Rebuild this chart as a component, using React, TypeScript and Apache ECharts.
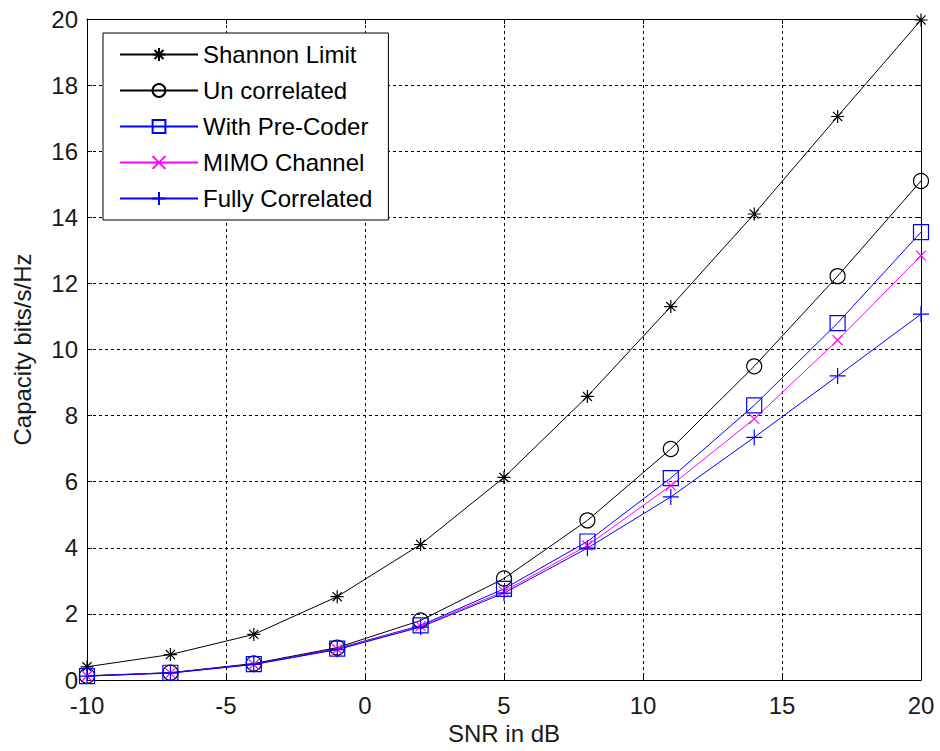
import React, { useEffect, useRef } from "react";
import * as echarts from "echarts";

const snr = [-10, -7, -4, -1, 2, 5, 8, 11, 14, 17, 20];
const shannon = [0.4, 0.77, 1.38, 2.52, 4.1, 6.13, 8.58, 11.3, 14.1, 17.05, 19.97];
const uncorrelated = [0.13, 0.22, 0.5, 0.98, 1.8, 3.07, 4.83, 6.99, 9.49, 12.22, 15.1];
const preCoder = [0.12, 0.22, 0.48, 0.95, 1.65, 2.76, 4.19, 6.11, 8.31, 10.8, 13.55];
const mimo = [0.12, 0.21, 0.47, 0.93, 1.63, 2.68, 4.07, 5.88, 7.9, 10.28, 12.84];
const fully = [0.12, 0.21, 0.47, 0.92, 1.6, 2.63, 3.99, 5.54, 7.34, 9.2, 11.07];

const xTicks = { min: -10, max: 20, interval: 5 };
const yTicks = { min: 0, max: 20, interval: 2 };

const FONT = "Liberation Sans";
const STAR = "path://M0,-1L0,1M-1,0L1,0M-0.7,-0.7L0.7,0.7M-0.7,0.7L0.7,-0.7";
const CROSS = "path://M-1,-1L1,1M-1,1L1,-1";
const PLUS = "path://M0,-1L0,1M-1,0L1,0";

function pairs(ys: number[]) {
  return snr.map((x, i) => [x, ys[i]]);
}

export default function App() {
  const ref = useRef<HTMLDivElement>(null);
  useEffect(() => {
    const chart = echarts.init(ref.current!, null, { renderer: "svg" });
    const gridLine = { show: true, lineStyle: { color: "#000", type: [3, 3], width: 1 } };
    const axisLine = { show: true, onZero: false, lineStyle: { color: "#000", width: 1 } };
    const tick = { show: true, inside: true, length: 5, lineStyle: { color: "#000" } };
    const mk = (name: string, data: number[], color: string, symbol: string, size: number) => ({
      name,
      type: "line",
      data: pairs(data),
      symbol,
      symbolSize: size,
      showSymbol: true,
      lineStyle: { color, width: 1 },
      itemStyle: { color: "transparent", borderColor: color, borderWidth: 1.2 },
      emphasis: { disabled: true },
      z: 3,
    });
    chart.setOption({
      animation: false,
      backgroundColor: "#fff",
      grid: { left: 87, right: 19, top: 19, bottom: 71, containLabel: false },
      legend: {
        orient: "vertical",
        left: 103,
        top: 33,
        backgroundColor: "#fff",
        borderColor: "#000",
        borderWidth: 1,
        padding: [8, 16, 8, 16],
        itemWidth: 78,
        itemHeight: 16,
        itemGap: 9,
        textStyle: { fontFamily: FONT, fontSize: 24, color: "#000", lineHeight: 27 },
        z: 10,
      },
      xAxis: [
        {
          type: "value",
          ...xTicks,
          name: "SNR in dB",
          nameLocation: "middle",
          nameGap: 41,
          nameTextStyle: { fontFamily: FONT, fontSize: 24, color: "#1a1a1a" },
          axisLine,
          axisTick: tick,
          splitLine: gridLine,
          axisLabel: { fontFamily: FONT, fontSize: 24, color: "#1a1a1a", margin: 13 },
        },
        {
          type: "value",
          position: "top",
          ...xTicks,
          axisLine,
          axisTick: tick,
          splitLine: { show: false },
          axisLabel: { show: false },
        },
      ],
      yAxis: [
        {
          type: "value",
          ...yTicks,
          name: "Capacity bits/s/Hz",
          nameLocation: "middle",
          nameGap: 53,
          nameTextStyle: { fontFamily: FONT, fontSize: 24, color: "#1a1a1a" },
          axisLine,
          axisTick: tick,
          splitLine: gridLine,
          axisLabel: { fontFamily: FONT, fontSize: 24, color: "#1a1a1a", margin: 9 },
        },
        {
          type: "value",
          position: "right",
          ...yTicks,
          axisLine,
          axisTick: tick,
          splitLine: { show: false },
          axisLabel: { show: false },
        },
      ],
      series: [
        mk("Shannon Limit", shannon, "#000000", STAR, 13),
        mk("Un correlated", uncorrelated, "#000000", "circle", 15),
        mk("With Pre-Coder", preCoder, "#0000ff", "rect", 15),
        mk("MIMO Channel", mimo, "#ff00ff", CROSS, 10),
        mk("Fully Correlated", fully, "#0000ff", PLUS, 16),
      ],
    });
    return () => chart.dispose();
  }, []);
  return (
    <div
      ref={ref}
      style={{ position: "absolute", left: 0, top: 0, width: 940, height: 751 }}
    />
  );
}
